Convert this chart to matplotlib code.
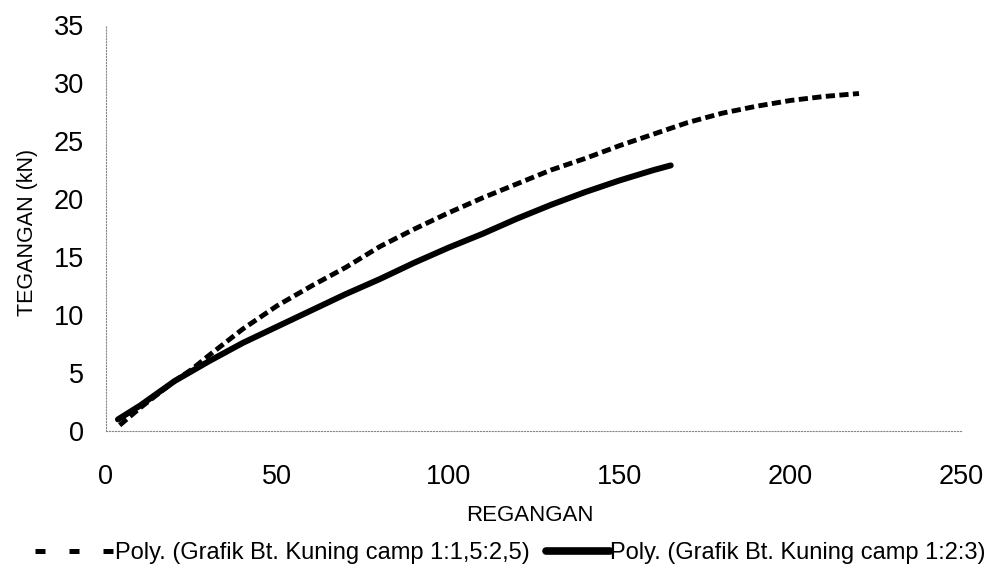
import matplotlib
matplotlib.use("Agg")
import matplotlib.pyplot as plt
from matplotlib.lines import Line2D

# (trend lines)
x_dash = [4, 10, 20, 25, 30, 40, 50, 60, 70, 80, 90, 100, 110, 120, 130,
          140, 150, 160, 170, 180, 190, 200, 210, 220]
y_dash = [0.5, 2.0, 4.3, 5.3, 6.5, 8.8, 10.8, 12.5, 14.1, 15.9, 17.4, 18.8,
          20.1, 21.3, 22.5, 23.5, 24.6, 25.6, 26.6, 27.4, 28.0, 28.5, 28.85, 29.1]

x_solid = [3.5, 10, 20, 30, 40, 50, 60, 70, 80, 90, 100, 110, 120, 130,
           140, 150, 160, 165]
y_solid = [1.0, 2.2, 4.3, 6.0, 7.6, 9.0, 10.4, 11.8, 13.1, 14.5, 15.8, 17.0,
           18.3, 19.5, 20.6, 21.6, 22.5, 22.9]

label_dash = "Poly. (Grafik Bt. Kuning camp 1:1,5:2,5)"
label_solid = "Poly. (Grafik Bt. Kuning camp 1:2:3)"

xticks = [0, 50, 100, 150, 200, 250]
yticks = [0, 5, 10, 15, 20, 25, 30, 35]

plt.rcParams['font.family'] = ['Liberation Sans', 'DejaVu Sans']

fig = plt.figure(figsize=(9.95, 5.75), dpi=100)
ax = fig.add_axes([0.1065, 0.2504, 0.860, 0.706])

ax.plot(x_dash, y_dash, color='black', lw=3.5, dashes=(1.9, 0.9),
        dash_capstyle='butt', solid_joinstyle='round')
ax.plot(x_solid, y_solid, color='black', lw=4.3, solid_capstyle='round')

ax.set_xlim(0, 250)
ax.set_ylim(0, 35)
ax.set_xticks(xticks)
ax.set_yticks(yticks)
ax.tick_params(length=0, labelsize=19.5)
ax.tick_params(axis='x', pad=24)
ax.tick_params(axis='y', pad=16)

for side in ['top', 'right']:
    ax.spines[side].set_visible(False)
for side in ['left', 'bottom']:
    ax.spines[side].set_linestyle(':')
    ax.spines[side].set_color('#888888')
    ax.spines[side].set_linewidth(0.8)

ax.set_xlabel("REGANGAN", fontsize=16)
ax.set_ylabel("TEGANGAN (kN)", fontsize=15.5)
ax.xaxis.set_label_coords(0.495, -0.183)
ax.yaxis.set_label_coords(-0.08, 0.488)

# two legend entries, placed separately
h_dash = Line2D([], [], color='black', lw=3.6, dashes=(2.0, 4.8), dash_capstyle='butt')
h_solid = Line2D([], [], color='black', lw=5.5, solid_capstyle='round')
leg1 = fig.legend([h_dash], [label_dash], loc='center left',
                  bbox_to_anchor=(0.035, 0.038), frameon=False, fontsize=17,
                  handlelength=3.3, handletextpad=0.08, borderpad=0, borderaxespad=0)
leg2 = fig.legend([h_solid], [label_solid], loc='center left',
                  bbox_to_anchor=(0.549, 0.038), frameon=False, fontsize=17,
                  handlelength=2.7, handletextpad=0.02, borderpad=0, borderaxespad=0)

fig.savefig("out.png", dpi=100)
